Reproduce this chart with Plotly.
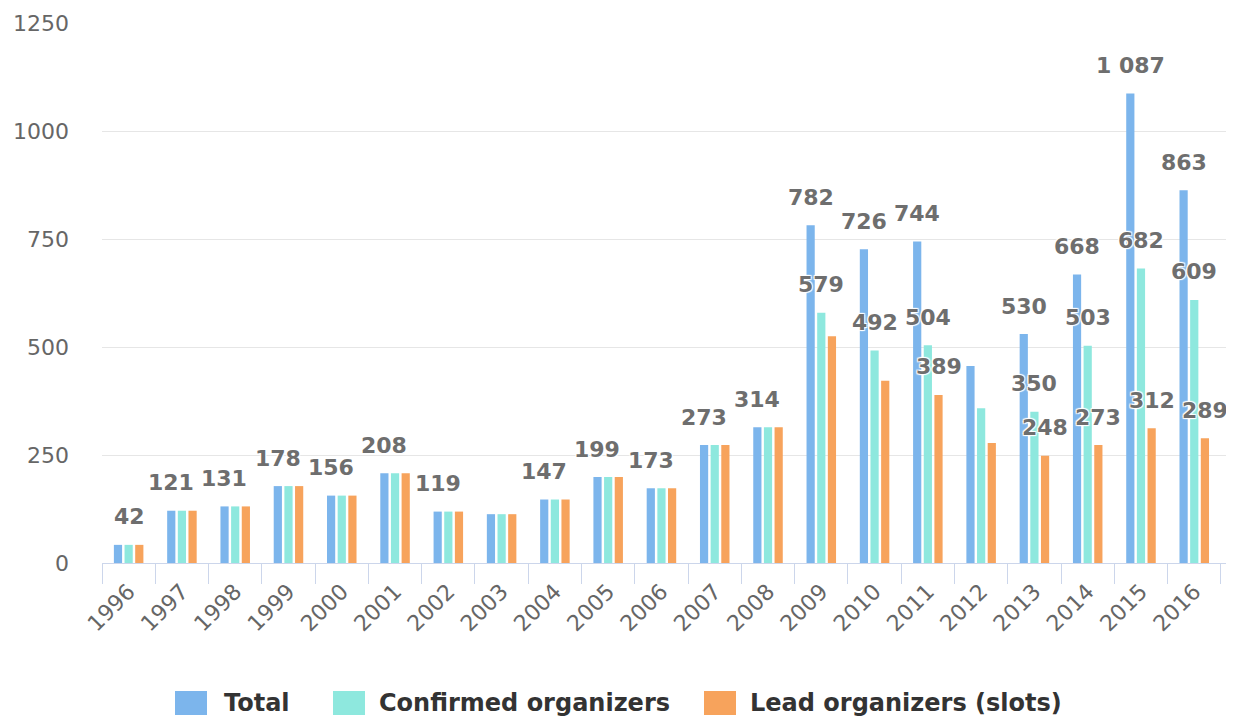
import plotly.graph_objects as go

years = [str(y) for y in range(1996, 2017)]
total = [42, 121, 131, 178, 156, 208, 119, 113, 147, 199, 173, 273, 314,
         782, 726, 744, 456, 530, 668, 1087, 863]
confirmed = [42, 121, 131, 178, 156, 208, 119, 113, 147, 199, 173, 273, 314,
             579, 492, 504, 358, 350, 503, 682, 609]
lead = [42, 121, 131, 178, 156, 208, 119, 113, 147, 199, 173, 273, 314,
        525, 422, 389, 278, 248, 273, 312, 289]

series_names = ["Total", "Confirmed organizers", "Lead organizers (slots)"]
series_values = [total, confirmed, lead]
colors = ["#7cb5ec", "#8ee8de", "#f7a35c"]

# data labels that stay visible (others hidden by overlap in the original)
shown_labels = {
    "Total": [y for y in years if y not in ("2003", "2012")],
    "Confirmed organizers": ["2009", "2010", "2011", "2013", "2014", "2015", "2016"],
    "Lead organizers (slots)": ["2011", "2013", "2014", "2015", "2016"],
}

# page body has an 8px margin, so the figure is sized/offset accordingly
W, H = 1226, 711
ML, MR, MT, MB = 94, 4, 15, 156
BARGAP, GROUPGAP = 0.40, 0.23
LABEL_SIZE = 22
plot_w = W - ML - MR
plot_h = H - MT - MB
cat_w = plot_w / len(years)
slot = cat_w * (1 - BARGAP) / 3


def fmt(v):
    return f"{v:,}".replace(",", " ")


fig = go.Figure()
for name, vals, col in zip(series_names, series_values, colors):
    fig.add_trace(go.Bar(x=years, y=vals, name=name, marker_color=col,
                         marker_line_width=0, showlegend=False))

annotations = []
for k, (name, vals) in enumerate(zip(series_names, series_values)):
    for idx, (yr, v) in enumerate(zip(years, vals)):
        if yr in shown_labels[name]:
            txt = fmt(v)
            shift = (k - 1) * slot
            # keep label inside the plot area (justify like the original)
            centre = (idx + 0.5) * cat_w + shift
            half = len(txt) * 0.7 * LABEL_SIZE / 2
            if centre - half < 12:
                shift += 12 - (centre - half)
            annotations.append(dict(
                x=idx, y=v, xref="x", yref="y", text=txt, showarrow=False,
                xshift=shift, yshift=28, yanchor="middle",
                font=dict(family="DejaVu Sans", size=LABEL_SIZE, color="#6e6e6e",
                          weight="bold",
                          shadow="1px 1px 1px #fff, -1px -1px 1px #fff, 1px -1px 1px #fff, -1px 1px 1px #fff"),
            ))

# custom legend (bottom, centered) - pixel positions in figure coords
legend_items = [(167, 214), (325, 369), (696, 740)]
legend_y = 695
shapes = []
for (sx, tx), name, col in zip(legend_items, series_names, colors):
    shapes.append(dict(type="rect", xref="paper", yref="paper",
                       x0=(sx - ML) / plot_w, x1=(sx + 32 - ML) / plot_w,
                       y0=(H - MB - (legend_y + 12)) / plot_h,
                       y1=(H - MB - (legend_y - 12)) / plot_h,
                       fillcolor=col, line_width=0))
    annotations.append(dict(x=(tx - ML) / plot_w, y=(H - MB - legend_y) / plot_h,
                            xref="paper", yref="paper", text=name, showarrow=False,
                            xanchor="left", yanchor="middle",
                            font=dict(family="DejaVu Sans", size=24, color="#333333",
                                      weight="bold")))

fig.update_layout(
    width=W, height=H,
    margin=dict(l=ML, r=MR, t=MT, b=MB, pad=0, autoexpand=False),
    barmode="group", bargap=BARGAP, bargroupgap=GROUPGAP,
    plot_bgcolor="#ffffff", paper_bgcolor="#ffffff",
    font=dict(family="DejaVu Sans", color="#666666"),
    annotations=annotations, shapes=shapes,
    showlegend=False,
)
fig.update_xaxes(type="category", tickson="boundaries", ticks="outside",
                 ticklen=20, tickcolor="#ccd6eb", tickwidth=1,
                 showline=True, linecolor="#ccd6eb", linewidth=1,
                 showgrid=False, tickangle=-45, automargin=False,
                 ticklabelstandoff=6,
                 tickfont=dict(family="DejaVu Sans", size=22, color="#666666"))
fig.update_yaxes(range=[0, 1250], tickvals=[0, 250, 500, 750, 1000, 1250],
                 showgrid=True, gridcolor="#e6e6e6", gridwidth=1,
                 zeroline=False, showline=False, ticks="", automargin=False,
                 ticklabelstandoff=32,
                 tickfont=dict(family="DejaVu Sans", size=22, color="#666666"))

fig.write_html("out.html")
